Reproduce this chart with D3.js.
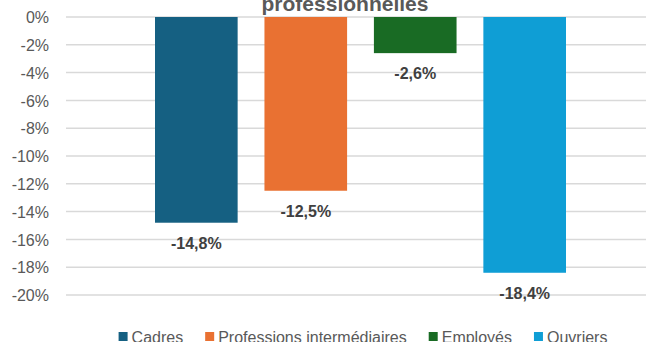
<!DOCTYPE html>
<html>
<head>
<meta charset="utf-8">
<script src="https://cdn.jsdelivr.net/npm/d3@7"></script>
<style>
  html, body { margin: 0; padding: 0; background: #fff; }
  svg { display: block; }
  text { font-family: "Liberation Sans", Arial, sans-serif; }
</style>
</head>
<body>
<svg id="chart" width="646" height="342"></svg>
<script>
// ---- Data ----
const categories = ["Cadres", "Professions intermédiaires", "Employés", "Ouvriers"];
const values = [-14.8, -12.5, -2.6, -18.4];
const colors = ["#156082", "#E97132", "#196B24", "#0F9ED5"];
const yTicks = [0, -2, -4, -6, -8, -10, -12, -14, -16, -18, -20];
const titleText = "professionnelles";

// ---- Layout ----
const svg = d3.select("#chart");
const plotLeft = 66, plotRight = 646;

const y = d3.scaleLinear().domain([-20, 0]).range([295, 17]);
const x = d3.scaleBand().domain(categories).range([155, 566]).paddingInner(0.245).paddingOuter(0);

const fmt = v => String(v) + "%";
const fmtLabel = v => v.toFixed(1).replace(".", ",") + "%";

// Gridlines
svg.append("g").selectAll("line").data(yTicks).join("line")
  .attr("x1", plotLeft).attr("x2", plotRight)
  .attr("y1", d => y(d)).attr("y2", d => y(d))
  .attr("stroke", "#d9d9d9").attr("stroke-width", 1.5);

// Y axis labels
const yAxis = d3.axisLeft(y).tickValues(yTicks).tickFormat(fmt).tickSize(0).tickPadding(0);
const gy = svg.append("g").attr("transform", "translate(49,0)").call(yAxis);
gy.select(".domain").remove();
gy.selectAll("text")
  .attr("font-family", "Liberation Sans, Arial, sans-serif")
  .attr("font-size", 16).attr("fill", "#595959").attr("dy", "0.36em");

// Bars
svg.append("g").selectAll("rect").data(categories).join("rect")
  .attr("x", d => x(d))
  .attr("width", x.bandwidth())
  .attr("y", y(0))
  .attr("height", (d, i) => y(values[i]) - y(0))
  .attr("fill", (d, i) => colors[i]);

// Data labels
svg.append("g").selectAll("text").data(categories).join("text")
  .attr("x", d => x(d) + x.bandwidth() / 2)
  .attr("y", (d, i) => y(values[i]) + 26)
  .attr("text-anchor", "middle")
  .attr("font-size", 16).attr("font-weight", "bold").attr("fill", "#404040")
  .text((d, i) => fmtLabel(values[i]));

// Title (partly cut off at top, as in the reference)
svg.append("text")
  .attr("x", 345).attr("y", 11)
  .attr("text-anchor", "middle")
  .attr("font-size", 21).attr("font-weight", "bold").attr("fill", "#595959")
  .text(titleText);

// Legend
const legend = svg.append("g");
const items = legend.selectAll("g").data(categories).join("g");
items.append("rect").attr("width", 9).attr("height", 9).attr("y", -11)
  .attr("fill", (d, i) => colors[i]);
items.append("text").attr("x", 13).attr("y", 0)
  .attr("font-size", 16).attr("fill", "#595959").text(d => d);
const widths = [];
items.each(function() { widths.push(13 + this.querySelector("text").getComputedTextLength()); });
const gap = 22;
const total = d3.sum(widths) + gap * (widths.length - 1);
let cx = 363 - total / 2;
items.attr("transform", (d, i) => {
  const t = `translate(${cx},343)`;
  cx += widths[i] + gap;
  return t;
});
</script>
</body>
</html>
